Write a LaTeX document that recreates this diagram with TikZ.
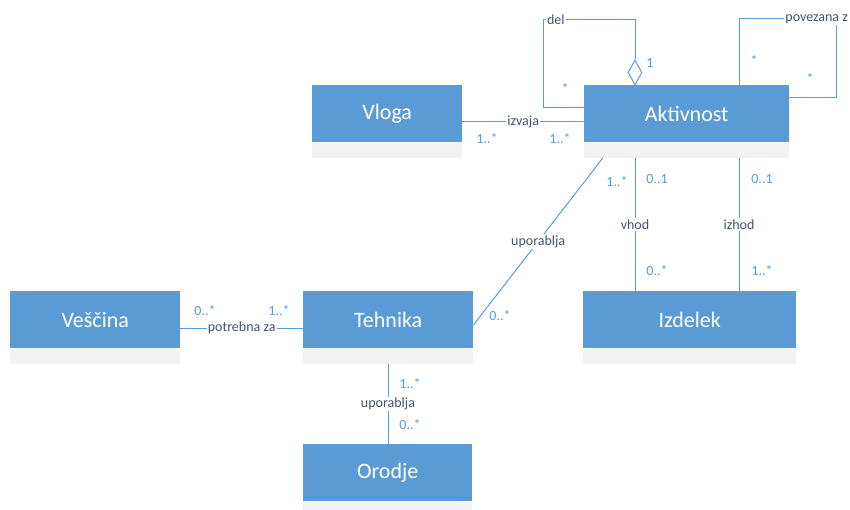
\documentclass[tikz,border=0pt]{standalone}
\usepackage{fontspec}
\setmainfont{Carlito}
\usetikzlibrary{shapes.geometric}
\definecolor{ublue}{HTML}{5B9BD5}
\definecolor{ustrip}{HTML}{F2F2F2}
\definecolor{utext}{HTML}{44546A}
\begin{document}
\begin{tikzpicture}[x=1pt,y=-1pt,
  cls/.style={fill=ublue, text=white, font=\fontsize{22}{26}\selectfont,
    inner sep=0, anchor=north west, minimum height=57},
  stripbox/.style={fill=ustrip, inner sep=0, anchor=north west, minimum height=15},
  assoc/.style={draw=ublue, line width=1pt},
  alab/.style={fill=white, text=utext, font=\fontsize{14}{16}\selectfont, inner sep=1.2},
  mult/.style={text=ublue, font=\fontsize{14}{16}\selectfont, inner sep=1}]
\useasboundingbox (0,0) rectangle (850,510);

% classes
\node[cls, minimum width=150] (vloga) at (312,85) {Vloga};
\node[stripbox, minimum width=150] (vlogaS) at (vloga.south west) {};
\node[cls, minimum width=205] (akt) at (584,85) {Aktivnost};
\node[stripbox, minimum width=205] (aktS) at (akt.south west) {};
\node[cls, minimum width=170] (vesc) at (10,291) {Veščina};
\node[stripbox, minimum width=170] (vescS) at (vesc.south west) {};
\node[cls, minimum width=170] (teh) at (303,291) {Tehnika};
\node[stripbox, minimum width=170] (tehS) at (teh.south west) {};
\node[cls, minimum width=213] (izd) at (583,291) {Izdelek};
\node[stripbox, minimum width=213] (izdS) at (izd.south west) {};
\node[cls, minimum width=169] (orod) at (303,444) {Orodje};
\node[stripbox, minimum width=169] (orodS) at (orod.south west) {};

% associations
\draw[assoc] (vloga.east |- 0,122) -- node[alab] (lizv) {izvaja} (akt.west |- 0,122);

\node[diamond, draw=ublue, fill=white, line width=1pt, inner sep=0,
      minimum width=14, minimum height=25] (agg) at (635,72.5) {};
\draw[assoc] (agg.north) -- (635,20) -- node[alab, pos=0.86] (ldel) {del} (543,20)
  -- (543,108) -- (akt.west |- 0,108);

\draw[assoc] (akt.north -| 739,0) -- (739,19) -- (836,19) -- (836,98) -- (akt.east |- 0,98);
\node[alab, anchor=west] (lpov) at (784,19) {povezana z};

\draw[assoc] (aktS.south -| 635,0) -- node[alab] (lvh) {vhod} (izd.north -| 635,0);
\draw[assoc] (aktS.south -| 739,0) -- node[alab] (liz) {izhod} (izd.north -| 739,0);
\draw[assoc] (aktS.south -| 603,0) -- node[alab] (lup1) {uporablja} (teh.east |- 0,325);
\draw[assoc] (vesc.east |- 0,328) -- node[alab] (lpot) {potrebna za} (teh.west |- 0,328);
\draw[assoc] (tehS.south -| 388,0) -- node[alab] (lup2) {uporablja} (orod.north -| 388,0);

% multiplicities
\node[mult] (m1) at (487,139) {1..*};
\node[mult] (m2) at (560,139) {1..*};
\node[mult] (m3) at (650,63) {1};
\node[mult] (m4) at (565,89) {*};
\node[mult] (m5) at (754,61) {*};
\node[mult] (m6) at (810,79) {*};
\node[mult] (m7) at (617,182) {1..*};
\node[mult] (m8) at (657,179) {0..1};
\node[mult] (m9) at (657,271) {0..*};
\node[mult] (m10) at (762,179) {0..1};
\node[mult] (m11) at (762,271) {1..*};
\node[mult] (m12) at (500,316) {0..*};
\node[mult] (m13) at (205,311) {0..*};
\node[mult] (m14) at (279,311) {1..*};
\node[mult] (m15) at (410,384) {1..*};
\node[mult] (m16) at (410,425) {0..*};
\end{tikzpicture}
\end{document}
